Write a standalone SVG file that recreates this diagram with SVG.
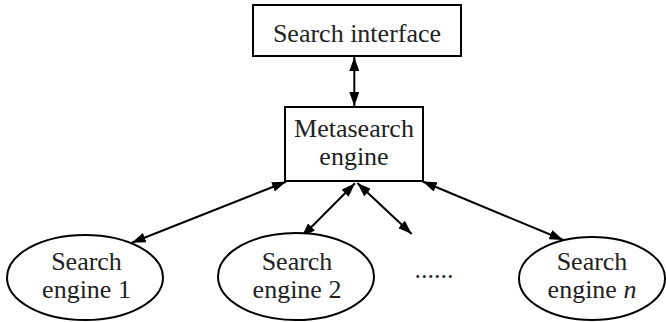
<svg xmlns="http://www.w3.org/2000/svg" width="666" height="322" viewBox="0 0 666 322">
<style>
.box{fill:#fff;stroke:#000;stroke-width:2}
.t{font-family:"Liberation Serif","Times New Roman",serif;font-size:26px;fill:#222;text-anchor:middle}
.c{stroke:#000;stroke-width:2;fill:none;marker-start:url(#ah);marker-end:url(#ah)}
</style>
<defs>
<marker id="ah" viewBox="0 0 14 10" refX="14" refY="5" markerWidth="14" markerHeight="10" markerUnits="userSpaceOnUse" orient="auto-start-reverse">
<path d="M0,0 L14,5 L0,10 Z" fill="#000"/>
</marker>
</defs>
<rect width="666" height="322" fill="#fff"/>
<g id="connectors">
<line class="c" x1="354.3" y1="57" x2="354.3" y2="106"/>
<line class="c" x1="286" y1="181.7" x2="131.7" y2="242.7"/>
<line class="c" x1="355" y1="183.3" x2="301.7" y2="236.7"/>
<line class="c" x1="357.3" y1="183" x2="411.7" y2="234"/>
<line class="c" x1="422.7" y1="181.5" x2="563.3" y2="240"/>
</g>
<g id="search-interface">
<rect class="box" x="253" y="5" width="208" height="51"/>
<text class="t" x="357" y="41.5">Search interface</text>
</g>
<g id="metasearch-engine">
<rect class="box" x="285" y="107" width="138" height="74"/>
<text class="t" x="354" y="136.5">Metasearch</text>
<text class="t" x="354" y="164.5">engine</text>
</g>
<g id="engine1">
<ellipse class="box" cx="85" cy="277.5" rx="78" ry="42.5"/>
<text class="t" x="86.5" y="270">Search</text>
<text class="t" x="86.5" y="298">engine 1</text>
</g>
<g id="engine2">
<ellipse class="box" cx="296" cy="276.5" rx="78" ry="43.5"/>
<text class="t" x="297" y="270">Search</text>
<text class="t" x="297" y="298">engine 2</text>
</g>
<g id="ellipsis">
<text class="t" x="434" y="278">......</text>
</g>
<g id="enginen">
<ellipse class="box" cx="592" cy="278.5" rx="73" ry="41.5"/>
<text class="t" x="592" y="270">Search</text>
<text class="t" x="592" y="298">engine <tspan font-style="italic">n</tspan></text>
</g>
</svg>
